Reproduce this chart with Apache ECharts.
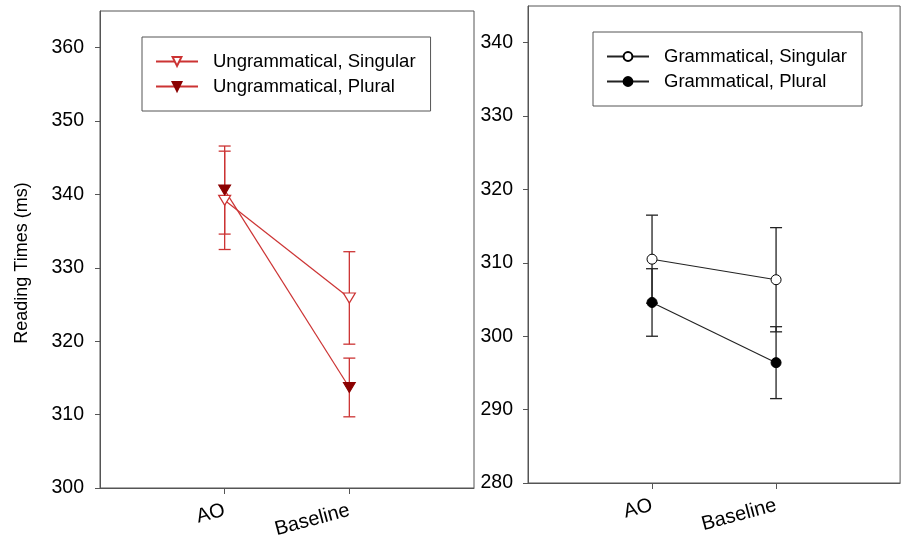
<!DOCTYPE html>
<html><head><meta charset="utf-8">
<script src="https://cdn.jsdelivr.net/npm/echarts@6/dist/echarts.min.js"></script>
<style>html,body{margin:0;padding:0;background:#fff}#c{width:903px;height:541px}</style>
</head><body><div id="c"></div>
<script>
const categories = ['AO', 'Baseline'];
const ungramSingMean = [339.2, 325.9];
const ungramSingErr = [6.7, 6.3];
const ungramPlurMean = [340.6, 313.7];
const ungramPlurErr = [6.0, 4.0];
const gramSingMean = [310.5, 307.7];
const gramSingErr = [6.0, 7.1];
const gramPlurMean = [304.6, 296.4];
const gramPlurErr = [4.6, 4.9];
const leftTicks = [300, 310, 320, 330, 340, 350, 360];
const rightTicks = [280, 290, 300, 310, 320, 330, 340];
const yTitle = 'Reading Times (ms)';

const FONT = "'Liberation Sans', Arial, sans-serif";
const RED = '#CC3333';
const DARKRED = '#8B0000';
const FRAME = '#555';

const axisCats = [''].concat(categories, ['']);
function pts(mean) { return mean.map((v, i) => [i + 1, v]); }
function bars(mean, err) { return mean.map((v, i) => [i + 1, v - err[i], v + err[i]]); }
function errRender(color) {
  return function (params, api) {
    const x = api.value(0), lo = api.value(1), hi = api.value(2);
    const p1 = api.coord([x, hi]), p2 = api.coord([x, lo]);
    const w = 6;
    const st = { stroke: color, lineWidth: 1.3 };
    return { type: 'group', children: [
      { type: 'line', shape: { x1: p1[0], y1: p1[1], x2: p2[0], y2: p2[1] }, style: st },
      { type: 'line', shape: { x1: p1[0] - w, y1: p1[1], x2: p1[0] + w, y2: p1[1] }, style: st },
      { type: 'line', shape: { x1: p2[0] - w, y1: p2[1], x2: p2[0] + w, y2: p2[1] }, style: st }
    ] };
  };
}
function xAx(gi) {
  return {
    type: 'category', gridIndex: gi, data: axisCats, boundaryGap: false,
    axisLine: { show: true, lineStyle: { color: FRAME, width: 1 } },
    axisTick: { show: true, interval: (i, v) => v !== '', length: 6, lineStyle: { color: FRAME } },
    axisLabel: { interval: 0, rotate: 15, fontSize: 20, color: '#000', fontFamily: FONT, margin: 22 },
    splitLine: { show: false }
  };
}
function yAx(gi, min, max, ticks, margin) {
  return {
    type: 'value', gridIndex: gi, min: min, max: max, interval: 10,
    axisLine: { show: true, lineStyle: { color: FRAME, width: 1 } },
    axisTick: { show: true, customValues: ticks, length: 5, lineStyle: { color: FRAME } },
    axisLabel: { customValues: ticks, fontSize: 19.5, color: '#000', fontFamily: FONT, margin: margin },
    splitLine: { show: false }
  };
}
function legendCfg(left, top, names) {
  return {
    orient: 'vertical', left: left, top: top, data: names,
    itemWidth: 42, itemHeight: 11, itemGap: 6, padding: [15, 15, 15, 13],
    borderColor: FRAME, borderWidth: 1, backgroundColor: '#fff',
    textStyle: { fontSize: 18.5, color: '#000', fontFamily: FONT, padding: [0, 0, 0, 10] }
  };
}

const chart = echarts.init(document.getElementById('c'), null, { renderer: 'canvas' });
chart.setOption({
  animation: false,
  backgroundColor: '#fff',
  grid: [
    { left: 100, top: 11, width: 374, height: 477, show: true, borderColor: FRAME, borderWidth: 1, backgroundColor: 'transparent' },
    { left: 528, top: 6, width: 374, height: 477, show: true, borderColor: FRAME, borderWidth: 1, backgroundColor: 'transparent' }
  ],
  xAxis: [xAx(0), xAx(1)],
  yAxis: [yAx(0, 300, 365, leftTicks, 16), yAx(1, 280, 345, rightTicks, 15)],
  legend: [
    legendCfg(142, 37, ['Ungrammatical, Singular', 'Ungrammatical, Plural']),
    legendCfg(593, 32, ['Grammatical, Singular', 'Grammatical, Plural'])
  ],
  graphic: [{
    type: 'text', x: 22, y: 263, rotation: Math.PI / 2,
    style: { text: yTitle, font: '18px ' + FONT, fill: '#000', align: 'center', verticalAlign: 'middle' }
  }],
  series: [
    { type: 'custom', name: 'errUS', xAxisIndex: 0, yAxisIndex: 0, data: bars(ungramSingMean, ungramSingErr), renderItem: errRender(RED), encode: { x: 0, y: [1, 2] }, z: 2, silent: true },
    { type: 'custom', name: 'errUP', xAxisIndex: 0, yAxisIndex: 0, data: bars(ungramPlurMean, ungramPlurErr), renderItem: errRender(RED), encode: { x: 0, y: [1, 2] }, z: 2, silent: true },
    { type: 'custom', name: 'errGS', xAxisIndex: 1, yAxisIndex: 1, data: bars(gramSingMean, gramSingErr), renderItem: errRender('#222'), encode: { x: 0, y: [1, 2] }, z: 2, silent: true },
    { type: 'custom', name: 'errGP', xAxisIndex: 1, yAxisIndex: 1, data: bars(gramPlurMean, gramPlurErr), renderItem: errRender('#222'), encode: { x: 0, y: [1, 2] }, z: 2, silent: true },
    { type: 'line', name: 'Ungrammatical, Singular', xAxisIndex: 0, yAxisIndex: 0, data: pts(ungramSingMean),
      symbol: 'triangle', symbolRotate: 180, symbolSize: [12, 10], showAllSymbol: true,
      lineStyle: { color: RED, width: 1.2 }, itemStyle: { color: '#fff', borderColor: RED, borderWidth: 1.2 }, z: 3 },
    { type: 'line', name: 'Ungrammatical, Plural', xAxisIndex: 0, yAxisIndex: 0, data: pts(ungramPlurMean),
      symbol: 'triangle', symbolRotate: 180, symbolSize: [12, 10], showAllSymbol: true,
      lineStyle: { color: RED, width: 1.2 }, itemStyle: { color: DARKRED, borderColor: DARKRED, borderWidth: 1 }, z: 3 },
    { type: 'line', name: 'Grammatical, Singular', xAxisIndex: 1, yAxisIndex: 1, data: pts(gramSingMean),
      symbol: 'circle', symbolSize: 10, showAllSymbol: true,
      lineStyle: { color: '#222', width: 1.1 }, itemStyle: { color: '#fff', borderColor: '#000', borderWidth: 1 }, z: 3 },
    { type: 'line', name: 'Grammatical, Plural', xAxisIndex: 1, yAxisIndex: 1, data: pts(gramPlurMean),
      symbol: 'circle', symbolSize: 10, showAllSymbol: true,
      lineStyle: { color: '#222', width: 1.1 }, itemStyle: { color: '#000', borderColor: '#000', borderWidth: 1 }, z: 3 }
  ]
});
</script>
</body></html>
